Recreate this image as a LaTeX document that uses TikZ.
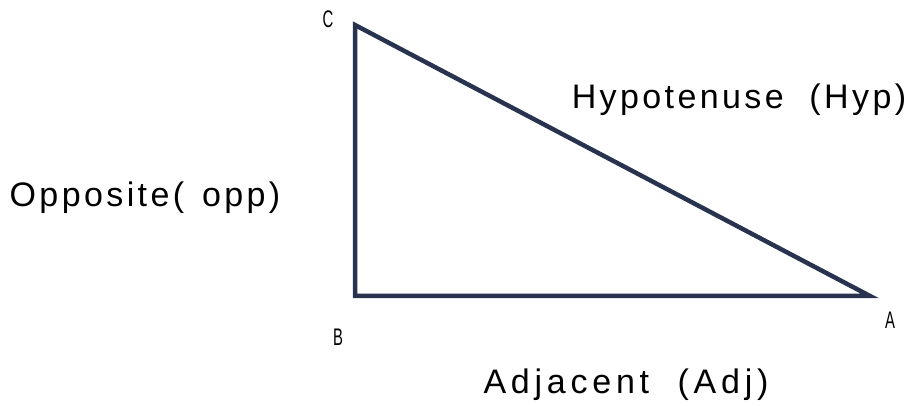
\documentclass[tikz,border=0pt]{standalone}
\usepackage{fontspec}
\setmainfont{Liberation Sans}
\newfontfamily\spaced[LetterSpace=10]{Liberation Sans}
\newfontfamily\spacedwide[LetterSpace=14]{Liberation Sans}
\definecolor{edgecol}{HTML}{28344F}
\begin{document}
\begin{tikzpicture}[x=1pt,y=-1pt,
  side/.style={draw=edgecol,line width=4.5pt,line join=miter},
  biglabel/.style={font=\spaced\fontsize{34}{38}\selectfont,anchor=base,inner sep=0pt},
  widelabel/.style={font=\spacedwide\fontsize{34}{38}\selectfont,anchor=base,inner sep=0pt},
  vlabel/.style={font=\fontsize{24}{26}\selectfont,anchor=base,inner sep=0pt,xscale=0.62}]
\useasboundingbox (0,0) rectangle (914,406);
\coordinate (C) at (355,25);
\coordinate (B) at (355,296);
\coordinate (A) at (870,296);
\draw[side] (C) -- (B) -- (A) -- cycle;
\node[vlabel] (lc) at (328,28) {C};
\node[vlabel] (lb) at (338,345) {B};
\node[vlabel] (la) at (890,329) {A};
\node[biglabel] (hyp) at (739,109) {Hypotenuse\ \ (Hyp)};
\node[biglabel] (opp) at (145,207) {Opposite(\hspace{5pt}\ opp)};
\node[widelabel] (adj) at (626,393) {Adjacent\ \ (Adj)};
\end{tikzpicture}
\end{document}
